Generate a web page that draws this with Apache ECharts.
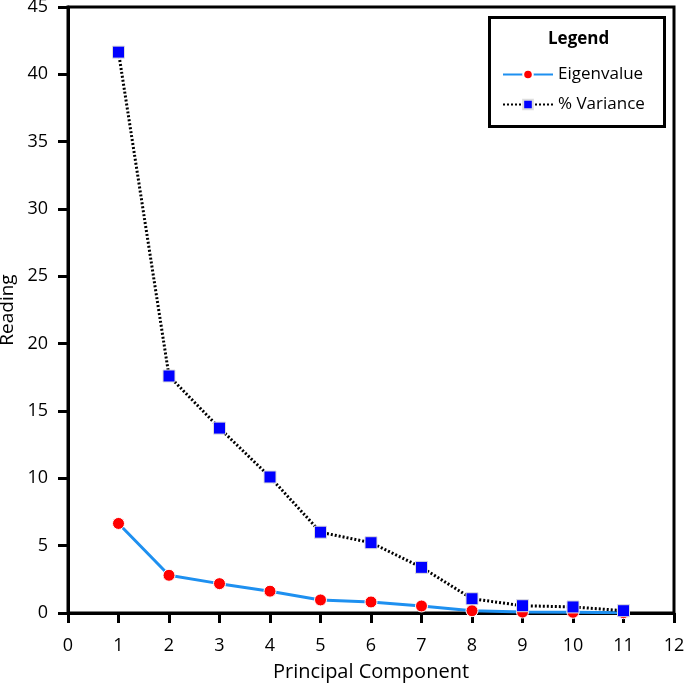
<!DOCTYPE html>
<html><head><meta charset="utf-8">
<script src="https://cdn.jsdelivr.net/npm/echarts@6/dist/echarts.min.js"></script>
<style>html,body{margin:0;padding:0;background:#fff}#c{width:685px;height:686px}</style>
</head><body><div id="c"></div>
<script>
const components = [1,2,3,4,5,6,7,8,9,10,11];
const eigenvalue = [6.65,2.8,2.18,1.62,0.97,0.82,0.52,0.17,0.07,0.05,0.02];
const pctVariance = [41.65,17.6,13.73,10.1,6.0,5.22,3.39,1.06,0.54,0.45,0.17];
const seriesNames = ['Eigenvalue','% Variance'];
const xTicks = [0,12,1];
const yTicks = [0,45,5];

const font = 'Open Sans';
const chart = echarts.init(document.getElementById('c'));
chart.setOption({
  animation:false,
  backgroundColor:'#fff',
  textStyle:{fontFamily:font},
  grid:{left:68,right:11,top:7,bottom:73,show:true,borderColor:'#000',borderWidth:3,containLabel:false,outerBoundsMode:'none'},
  xAxis:{type:'value',min:xTicks[0],max:xTicks[1],interval:xTicks[2],
    name:'Principal Component',nameLocation:'middle',nameGap:49,nameMoveOverlap:false,
    nameTextStyle:{fontSize:20,color:'#000',fontFamily:font},
    axisLine:{onZero:false,lineStyle:{color:'#000',width:3}},
    axisTick:{show:true,inside:false,length:10,lineStyle:{color:'#000',width:3}},
    axisLabel:{fontSize:18,color:'#000',margin:24,fontFamily:font},
    splitLine:{show:false}},
  yAxis:{type:'value',min:yTicks[0],max:yTicks[1],interval:yTicks[2],
    name:'Reading',nameLocation:'middle',nameGap:51,nameMoveOverlap:false,
    nameTextStyle:{fontSize:19,color:'#000',fontFamily:font},
    axisLine:{onZero:false,lineStyle:{color:'#000',width:3}},
    axisTick:{show:true,inside:false,length:10,lineStyle:{color:'#000',width:3}},
    axisLabel:{fontSize:18,color:'#000',margin:20,fontFamily:font},
    splitLine:{show:false}},
  legend:{left:497,top:61,orient:'vertical',itemWidth:50,itemHeight:12,itemGap:13,
    textStyle:{fontSize:17,color:'#000',fontFamily:font},data:seriesNames},
  graphic:[
    {type:'rect',left:488,top:16,shape:{width:175,height:109},style:{fill:'#fff',stroke:'#000',lineWidth:3},z:-1},
    {type:'text',left:548,top:31,style:{text:'Legend',font:'bold 17px "Open Sans"',fill:'#000'}}
  ],
  series:[
    {name:seriesNames[0],type:'line',data:components.map((c,i)=>[c,eigenvalue[i]]),
      symbol:'circle',symbolSize:12,lineStyle:{color:'#1E90F0',width:3},
      itemStyle:{color:'#FF0000',borderColor:'#fff',borderWidth:1},color:'#1E90F0',z:3},
    {name:seriesNames[1],type:'line',data:components.map((c,i)=>[c,pctVariance[i]]),
      symbol:'rect',symbolSize:12,lineStyle:{color:'#000',width:3,type:[2,2]},
      itemStyle:{color:'#0000FF',borderColor:'#ddd',borderWidth:1},z:4}
  ]
});
</script></body></html>
